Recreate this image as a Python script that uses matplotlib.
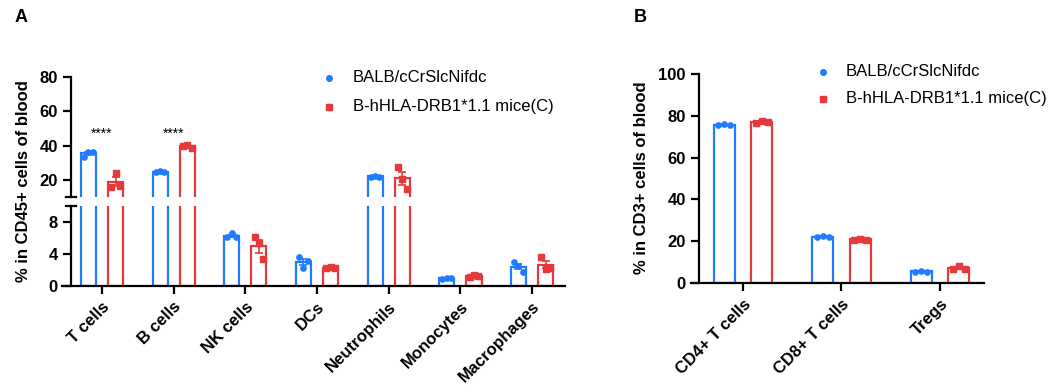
import matplotlib
matplotlib.use("Agg")
import matplotlib.pyplot as plt
from matplotlib.lines import Line2D
import numpy as np

plt.rcParams["font.family"] = ["Liberation Sans", "DejaVu Sans"]

BLUE = "#1f7bff"
RED = "#e5393c"

groups = ["BALB/cCrSlcNifdc", "B-hHLA-DRB1*1.1 mice(C)"]

# panel A: % in CD45+ cells of blood (3 mice per group)
cats_a = ["T cells", "B cells", "NK cells", "DCs", "Neutrophils", "Monocytes", "Macrophages"]
wt_a = [
    [33.4, 36.3, 36.5],
    [24.5, 25.0, 24.8],
    [6.1, 6.6, 6.1],
    [3.6, 2.3, 3.1],
    [21.8, 22.3, 21.9],
    [0.9, 1.0, 1.0],
    [3.0, 2.5, 1.8],
]
hu_a = [
    [16.0, 24.0, 16.5],
    [39.8, 40.2, 38.8],
    [6.1, 5.4, 3.4],
    [2.2, 2.4, 2.2],
    [27.5, 20.5, 14.5],
    [1.1, 1.4, 1.2],
    [3.6, 2.1, 2.3],
]
sig_a = ["****", "****", "", "", "", "", ""]

# panel B: % in CD3+ cells of blood
cats_b = ["CD4+ T cells", "CD8+ T cells", "Tregs"]
wt_b = [[75.4, 76.0, 75.5], [22.0, 22.4, 22.1], [5.3, 5.9, 5.4]]
hu_b = [[76.5, 77.4, 76.8], [20.6, 21.1, 20.8], [6.8, 8.2, 6.9]]

W, H = 1058, 392
fig = plt.figure(figsize=(W / 100, H / 100), dpi=100)


def px_axes(x0, y0, x1, y1):
    return fig.add_axes([x0 / W, 1 - y1 / H, (x1 - x0) / W, (y1 - y0) / H])


def draw_bars(ax, wt, hu, width=0.21, off=0.19, jit=0.06):
    x = np.arange(len(wt))
    for vals, sign, col, mk in [(wt, -1, BLUE, "o"), (hu, 1, RED, "s")]:
        vals = np.array(vals)
        mean = vals.mean(axis=1)
        sem = vals.std(axis=1, ddof=1) / np.sqrt(vals.shape[1])
        xs = x + sign * off
        ax.bar(xs, mean, width=width, facecolor="white", edgecolor=col, linewidth=1.6, zorder=2)
        for i in range(len(xs)):
            ax.plot(xs[i] + np.array([-jit, 0, jit]), vals[i], ls="", marker=mk,
                    color=col, markersize=3.8, zorder=3)
        ax.errorbar(xs, mean, yerr=sem, fmt="none", ecolor=col, elinewidth=1.2,
                    capsize=3, capthick=1.2, zorder=4)


def style(ax, spine_frac):
    for s in ["top", "right"]:
        ax.spines[s].set_visible(False)
    ax.spines["left"].set_position(("axes", spine_frac))
    ax.spines["left"].set_linewidth(1.6)
    ax.spines["bottom"].set_linewidth(1.6)
    ax.tick_params(length=6, width=1.6, labelsize=12)


def bold_yticks(ax):
    for lab in ax.get_yticklabels():
        lab.set_fontweight("bold")


# ---- panel A ----
xa = np.arange(len(cats_a))
ax_top = px_axes(62, 77, 565, 197)
ax_bot = px_axes(62, 206, 565, 286)
for ax in (ax_top, ax_bot):
    draw_bars(ax, wt_a, hu_a)
    ax.set_xlim(-0.558, 6.46)
    style(ax, 9 / 503)
ax_top.set_ylim(10, 80)
ax_top.set_yticks([20, 40, 60, 80])
ax_top.spines["bottom"].set_visible(False)
ax_top.tick_params(axis="x", bottom=False, labelbottom=False)
bold_yticks(ax_top)
ax_bot.set_ylim(0, 10)
ax_bot.set_yticks([0, 4, 8])
ax_bot.set_xticks(xa)
ax_bot.set_xticklabels(cats_a, rotation=45, ha="right", rotation_mode="anchor",
                       fontweight="bold", fontsize=12)
bold_yticks(ax_bot)
for i, s in enumerate(sig_a):
    if s:
        ax_top.text(xa[i], 47, s, ha="center", va="center", fontsize=10)

# axis break marks
for yy in (197, 206):
    fig.add_artist(Line2D([66 / W, 76 / W], [1 - yy / H, 1 - yy / H], color="black", lw=1.6))

fig.text(24 / W, 1 - 181 / H, "% in CD45+ cells of blood", rotation=90, ha="center",
         va="center", fontsize=12, fontweight="bold")
fig.text(15 / W, 1 - 18 / H, "A", fontsize=13, fontweight="bold", va="center")

# ---- panel B ----
xb = np.arange(len(cats_b))
ax_b = px_axes(691, 74, 984, 283)
draw_bars(ax_b, wt_b, hu_b)
ax_b.set_xlim(-0.528, 2.447)
ax_b.set_ylim(0, 100)
ax_b.set_yticks([0, 20, 40, 60, 80, 100])
style(ax_b, 8 / 293)
ax_b.set_xticks(xb)
ax_b.set_xticklabels(cats_b, rotation=45, ha="right", rotation_mode="anchor",
                     fontweight="bold", fontsize=12)
bold_yticks(ax_b)
fig.text(642 / W, 1 - 178 / H, "% in CD3+ cells of blood", rotation=90, ha="center",
         va="center", fontsize=12, fontweight="bold")
fig.text(634 / W, 1 - 18 / H, "B", fontsize=13, fontweight="bold", va="center")

# legends
for (mx, tx, y0, dy) in [(329, 353, 78, 29), (823, 846, 72, 27)]:
    for k, (g, col, mk) in enumerate(zip(groups, [BLUE, RED], ["o", "s"])):
        yy = 1 - (y0 + k * dy) / H
        fig.add_artist(Line2D([mx / W], [yy], ls="", marker=mk, color=col, markersize=4))
        fig.text(tx / W, yy, g, fontsize=12, va="center")

fig.savefig("out.png", dpi=100)
